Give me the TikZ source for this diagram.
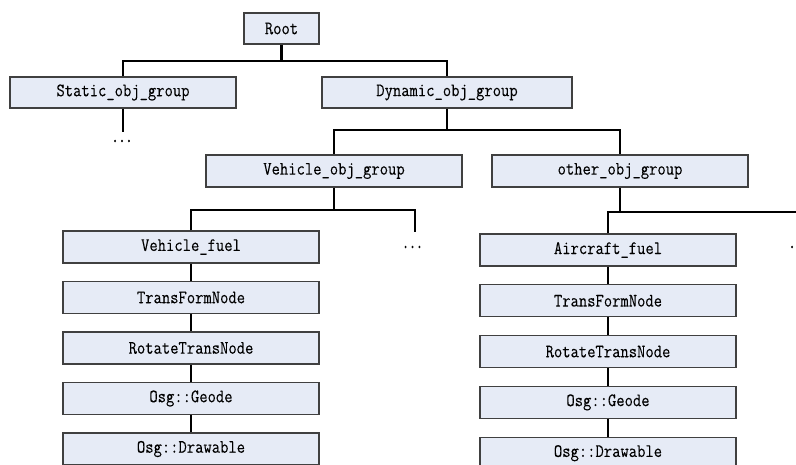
\documentclass[tikz,border=0pt]{standalone}
\usepackage{fontspec}
\newfontfamily\objfont{Latin Modern Mono}[FakeStretch=0.85,FakeBold=0.1]
\newfontfamily\dotfont{Latin Modern Mono}[FakeStretch=0.75,FakeBold=2]
\usepackage{tikz}
\usetikzlibrary{calc}
\definecolor{boxfill}{RGB}{230,235,246}
\begin{document}
\begin{tikzpicture}[x=1pt,y=-1pt, objbox/.style={draw=black!75,fill=boxfill,line width=1.1pt,minimum height=31pt,inner sep=0pt,font=\fontsize{19}{19}\objfont}, conn/.style={line width=2.4pt,draw=black}, dotstyle/.style={inner sep=0pt,font=\fontsize{18}{18}\dotfont}]

 \clip (0,0) rectangle (796,465);
 \fill[white] (0,0) rectangle (796,465);

 % top levels
 \node[objbox,minimum width=75pt] (root) at (281.5,28.5) {Root};
 \node[objbox,minimum width=226pt] (static) at (123,92.5) {Static\_obj\_group};
 \node[objbox,minimum width=250pt] (dynamic) at (447,92.5) {Dynamic\_obj\_group};
 \node[objbox,minimum width=256pt,minimum height=32pt] (vehicle) at (334,171) {Vehicle\_obj\_group};
 \node[objbox,minimum width=256pt,minimum height=32pt] (other) at (620,171) {other\_obj\_group};

 \coordinate (j1) at (281.5,61);
 \coordinate (j2) at (447,130);
 \coordinate (j3) at (334,210);
 \coordinate (j4) at (620,212);

    \draw[conn] (root.south) -- (j1);
    \draw[conn] (static.north) |- (j1) -| (dynamic.north);
    \draw[conn] (dynamic.south) -- (j2);
    \draw[conn] (vehicle.north) |- (j2) -| (other.north);

 % static branch
 \node[dotstyle] (sdots) at (122,141) {...};
 \coordinate (send) at (123,132);
    \draw[conn] (static.south) -- (send);

 % vehicle chain
 \foreach \n/\t [count=\i from 0] in {vf/Vehicle\_fuel, vt/TransFormNode, vr/RotateTransNode, vg/Osg::Geode, vd/Osg::Drawable}
   \node[objbox,minimum width=256pt,minimum height=32pt] (\n) at (191,247+50.5*\i) {\t};
 \foreach \a/\b in {vf/vt, vt/vr, vr/vg, vg/vd}
   \draw[conn] (\a.south) -- (\b.north);
 \node[dotstyle] (vdots) at (412.5,247) {...};
 \coordinate (vend) at (415,232);
    \draw[conn] (vehicle.south) -- (j3);
    \draw[conn] (vf.north) |- (j3) -| (vend);

 % aircraft chain
 \foreach \n/\t [count=\i from 0] in {af/Aircraft\_fuel, at/TransFormNode, ar/RotateTransNode, ag/Osg::Geode, ad/Osg::Drawable}
   \node[objbox,minimum width=256pt,minimum height=32pt] (\n) at (608,250+50.8*\i) {\t};
 \foreach \a/\b in {af/at, at/ar, ar/ag, ag/ad}
   \draw[conn] (\a.south) -- (\b.north);
 \node[dotstyle] (adots) at (799,247) {...};
 \coordinate (aend) at (805,212);
    \draw[conn] (other.south) -- (j4);
    \draw[conn] (af.north) |- (j4) -- (aend);
\end{tikzpicture}
\end{document}
